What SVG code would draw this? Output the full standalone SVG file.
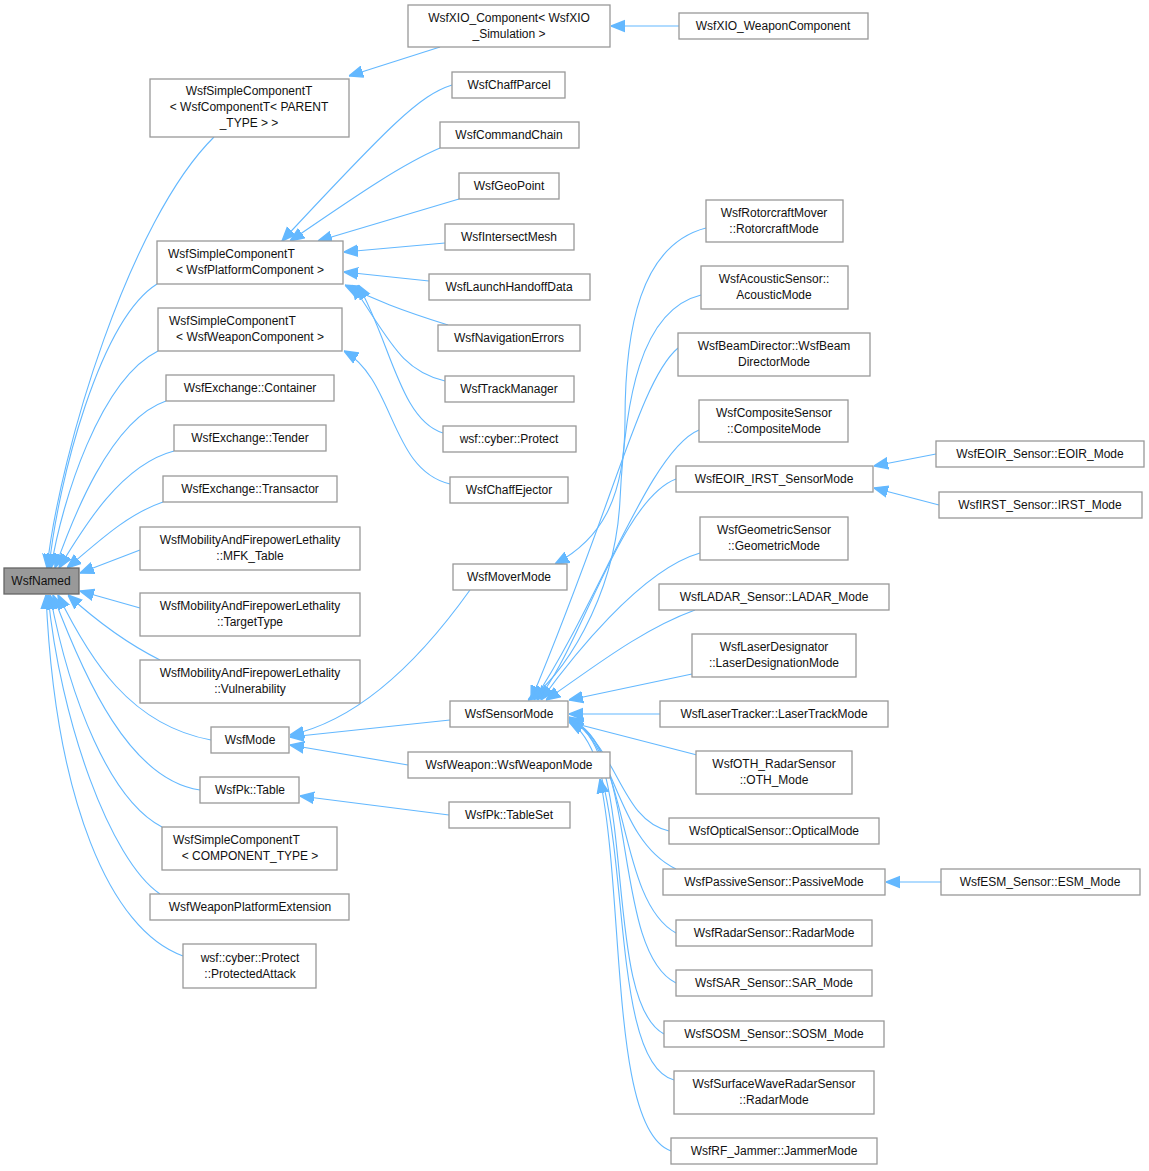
<svg xmlns="http://www.w3.org/2000/svg" width="1149" height="1171" viewBox="0 0 1149 1171">
<style>
rect{fill:#fff;stroke:#999;stroke-width:1.3}
text{font-family:"Liberation Sans",Arial,sans-serif;font-size:12px;fill:#111;text-anchor:middle}
#edges path{fill:none;stroke:#63b8ff;stroke-width:1.1;marker-end:url(#a)}
</style>
<defs><marker id="a" viewBox="0 0 10 10" refX="10" refY="5" markerWidth="14" markerHeight="14" markerUnits="userSpaceOnUse" orient="auto"><path d="M0,1L10,5L0,9z" fill="#63b8ff" stroke="#63b8ff"/></marker></defs>
<rect width="1149" height="1171" style="fill:#fff;stroke:none"/>
<g id="edges">
<path d="M214,137C130,220 60,450 47,568"/>
<path d="M157,284C100,320 58,480 49,568"/>
<path d="M158,351C100,380 62,500 51,568"/>
<path d="M166,401C110,420 72,520 55,568"/>
<path d="M174,451C120,465 82,530 59,568"/>
<path d="M163,502C125,515 95,545 67,568"/>
<path d="M140,550L80,573"/>
<path d="M140,608L80,591"/>
<path d="M160,660C120,640 90,615 68,595"/>
<path d="M211,740C130,725 90,660 58,595"/>
<path d="M200,790C130,780 85,680 53,595"/>
<path d="M162,827C110,800 70,700 50,595"/>
<path d="M160,894C110,860 60,720 48,595"/>
<path d="M183,956C110,930 55,800 46,595"/>
<path d="M440,47L349,76"/>
<path d="M452,85C420,95 390,125 282,241"/>
<path d="M440,148C400,165 350,200 290,241"/>
<path d="M459,199L318,241"/>
<path d="M445,243L344,252"/>
<path d="M429,281L344,272"/>
<path d="M448,325C400,310 375,300 345,285"/>
<path d="M445,381C400,370 390,340 352,285"/>
<path d="M443,433C400,420 390,340 358,285"/>
<path d="M450,484C390,470 395,380 344,351"/>
<path d="M470,590C420,660 360,720 290,735"/>
<path d="M450,720L290,737"/>
<path d="M408,765L290,745"/>
<path d="M449,815L300,796"/>
<path d="M679,26L611,26"/>
<path d="M706,228C640,245 625,330 625,420C625,500 600,540 555,564"/>
<path d="M701,295C640,310 625,400 620,500C615,600 560,680 528,700"/>
<path d="M678,348C640,380 615,500 531,700"/>
<path d="M699,430C650,450 600,600 534,700"/>
<path d="M676,479C620,500 580,650 537,700"/>
<path d="M700,553C640,570 570,660 541,700"/>
<path d="M695,610C640,630 590,670 546,700"/>
<path d="M692,674L569,700"/>
<path d="M660,714L569,714"/>
<path d="M697,755L569,722"/>
<path d="M669,831C620,820 620,750 569,717"/>
<path d="M676,869C615,840 615,740 569,718"/>
<path d="M676,933C615,900 630,740 569,719"/>
<path d="M676,983C610,950 640,740 569,720"/>
<path d="M664,1034C600,1000 640,740 569,721"/>
<path d="M674,1080C600,1060 640,760 569,722"/>
<path d="M671,1151C610,1130 625,900 600,779"/>
<path d="M936,454L874,466"/>
<path d="M939,505L874,488"/>
<path d="M941,882L886,882"/>
</g>
<g id="n_named"><rect x="4" y="568" width="75" height="26" style="fill:#999;stroke:#666"/><text x="41" y="585">WsfNamed</text></g>
<g id="n1"><rect x="150" y="79" width="199" height="58"/><text x="249" y="95">WsfSimpleComponentT</text><text x="249" y="111">&lt; WsfComponentT&lt; PARENT</text><text x="249" y="127">_TYPE &gt; &gt;</text></g>
<g id="n2"><rect x="157" y="241" width="186" height="43"/><text x="168" y="258" style="text-anchor:start">WsfSimpleComponentT</text><text x="250" y="274">&lt; WsfPlatformComponent &gt;</text></g>
<g id="n3"><rect x="158" y="308" width="184" height="43"/><text x="169" y="325" style="text-anchor:start">WsfSimpleComponentT</text><text x="250" y="341">&lt; WsfWeaponComponent &gt;</text></g>
<g id="n4"><rect x="166" y="375" width="168" height="26"/><text x="250" y="392">WsfExchange::Container</text></g>
<g id="n5"><rect x="174" y="425" width="152" height="26"/><text x="250" y="442">WsfExchange::Tender</text></g>
<g id="n6"><rect x="163" y="476" width="174" height="26"/><text x="250" y="493">WsfExchange::Transactor</text></g>
<g id="n7"><rect x="140" y="527" width="220" height="43"/><text x="250" y="544">WsfMobilityAndFirepowerLethality</text><text x="250" y="560">::MFK_Table</text></g>
<g id="n8"><rect x="140" y="593" width="220" height="43"/><text x="250" y="610">WsfMobilityAndFirepowerLethality</text><text x="250" y="626">::TargetType</text></g>
<g id="n9"><rect x="140" y="660" width="220" height="43"/><text x="250" y="677">WsfMobilityAndFirepowerLethality</text><text x="250" y="693">::Vulnerability</text></g>
<g id="n10"><rect x="211" y="727" width="78" height="26"/><text x="250" y="744">WsfMode</text></g>
<g id="n11"><rect x="200" y="777" width="99" height="26"/><text x="250" y="794">WsfPk::Table</text></g>
<g id="n12"><rect x="162" y="827" width="175" height="43"/><text x="173" y="844" style="text-anchor:start">WsfSimpleComponentT</text><text x="250" y="860">&lt; COMPONENT_TYPE &gt;</text></g>
<g id="n13"><rect x="150" y="894" width="199" height="26"/><text x="250" y="911">WsfWeaponPlatformExtension</text></g>
<g id="n14"><rect x="183" y="944" width="133" height="44"/><text x="250" y="962">wsf::cyber::Protect</text><text x="250" y="978">::ProtectedAttack</text></g>
<g id="n15"><rect x="408" y="5" width="202" height="42"/><text x="509" y="22">WsfXIO_Component&lt; WsfXIO</text><text x="509" y="38">_Simulation &gt;</text></g>
<g id="n16"><rect x="452" y="72" width="113" height="26"/><text x="509" y="89">WsfChaffParcel</text></g>
<g id="n17"><rect x="440" y="122" width="139" height="26"/><text x="509" y="139">WsfCommandChain</text></g>
<g id="n18"><rect x="459" y="173" width="100" height="26"/><text x="509" y="190">WsfGeoPoint</text></g>
<g id="n19"><rect x="445" y="224" width="129" height="26"/><text x="509" y="241">WsfIntersectMesh</text></g>
<g id="n20"><rect x="429" y="274" width="161" height="26"/><text x="509" y="291">WsfLaunchHandoffData</text></g>
<g id="n21"><rect x="438" y="325" width="142" height="26"/><text x="509" y="342">WsfNavigationErrors</text></g>
<g id="n22"><rect x="445" y="376" width="129" height="26"/><text x="509" y="393">WsfTrackManager</text></g>
<g id="n23"><rect x="443" y="426" width="133" height="26"/><text x="509" y="443">wsf::cyber::Protect</text></g>
<g id="n24"><rect x="450" y="477" width="118" height="26"/><text x="509" y="494">WsfChaffEjector</text></g>
<g id="n25"><rect x="453" y="564" width="114" height="26"/><text x="509" y="581">WsfMoverMode</text></g>
<g id="n26"><rect x="450" y="701" width="118" height="26"/><text x="509" y="718">WsfSensorMode</text></g>
<g id="n27"><rect x="408" y="752" width="202" height="26"/><text x="509" y="769">WsfWeapon::WsfWeaponMode</text></g>
<g id="n28"><rect x="449" y="802" width="121" height="26"/><text x="509" y="819">WsfPk::TableSet</text></g>
<g id="n29"><rect x="679" y="13" width="189" height="26"/><text x="773" y="30">WsfXIO_WeaponComponent</text></g>
<g id="n30"><rect x="706" y="200" width="137" height="42"/><text x="774" y="217">WsfRotorcraftMover</text><text x="774" y="233">::RotorcraftMode</text></g>
<g id="n31"><rect x="701" y="266" width="147" height="43"/><text x="774" y="283">WsfAcousticSensor::</text><text x="774" y="299">AcousticMode</text></g>
<g id="n32"><rect x="678" y="333" width="192" height="43"/><text x="774" y="350">WsfBeamDirector::WsfBeam</text><text x="774" y="366">DirectorMode</text></g>
<g id="n33"><rect x="699" y="400" width="149" height="42"/><text x="774" y="417">WsfCompositeSensor</text><text x="774" y="433">::CompositeMode</text></g>
<g id="n34"><rect x="676" y="466" width="197" height="26"/><text x="774" y="483">WsfEOIR_IRST_SensorMode</text></g>
<g id="n35"><rect x="700" y="517" width="148" height="43"/><text x="774" y="534">WsfGeometricSensor</text><text x="774" y="550">::GeometricMode</text></g>
<g id="n36"><rect x="659" y="584" width="230" height="26"/><text x="774" y="601">WsfLADAR_Sensor::LADAR_Mode</text></g>
<g id="n37"><rect x="692" y="634" width="164" height="43"/><text x="774" y="651">WsfLaserDesignator</text><text x="774" y="667">::LaserDesignationMode</text></g>
<g id="n38"><rect x="660" y="701" width="228" height="26"/><text x="774" y="718">WsfLaserTracker::LaserTrackMode</text></g>
<g id="n39"><rect x="696" y="751" width="156" height="43"/><text x="774" y="768">WsfOTH_RadarSensor</text><text x="774" y="784">::OTH_Mode</text></g>
<g id="n40"><rect x="669" y="818" width="210" height="26"/><text x="774" y="835">WsfOpticalSensor::OpticalMode</text></g>
<g id="n41"><rect x="663" y="869" width="222" height="26"/><text x="774" y="886">WsfPassiveSensor::PassiveMode</text></g>
<g id="n42"><rect x="676" y="920" width="196" height="26"/><text x="774" y="937">WsfRadarSensor::RadarMode</text></g>
<g id="n43"><rect x="676" y="970" width="196" height="26"/><text x="774" y="987">WsfSAR_Sensor::SAR_Mode</text></g>
<g id="n44"><rect x="664" y="1021" width="220" height="26"/><text x="774" y="1038">WsfSOSM_Sensor::SOSM_Mode</text></g>
<g id="n45"><rect x="674" y="1071" width="200" height="43"/><text x="774" y="1088">WsfSurfaceWaveRadarSensor</text><text x="774" y="1104">::RadarMode</text></g>
<g id="n46"><rect x="671" y="1138" width="206" height="26"/><text x="774" y="1155">WsfRF_Jammer::JammerMode</text></g>
<g id="n47"><rect x="936" y="441" width="208" height="26"/><text x="1040" y="458">WsfEOIR_Sensor::EOIR_Mode</text></g>
<g id="n48"><rect x="939" y="492" width="203" height="26"/><text x="1040" y="509">WsfIRST_Sensor::IRST_Mode</text></g>
<g id="n49"><rect x="941" y="869" width="199" height="26"/><text x="1040" y="886">WsfESM_Sensor::ESM_Mode</text></g>
</svg>
